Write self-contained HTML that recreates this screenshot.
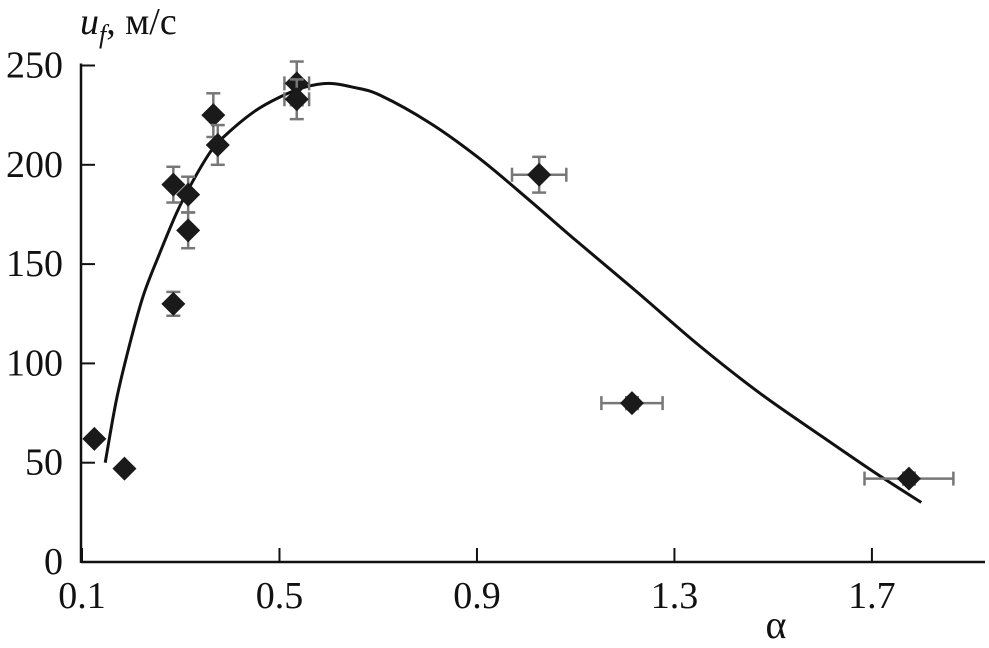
<!DOCTYPE html>
<html><head><meta charset="utf-8"><style>
html,body{margin:0;padding:0;background:#fff;}
svg{display:block;font-family:"Liberation Serif","DejaVu Serif",serif;}
</style></head><body>
<svg id="chart" width="989" height="648" viewBox="0 0 989 648" xmlns="http://www.w3.org/2000/svg">
<g id="axes"></g>
<g id="curve"></g>
<g id="points"></g>
<text x="80" y="34" font-size="38" fill="#111"><tspan font-style="italic">u</tspan><tspan font-style="italic" font-size="26" dy="9">f</tspan><tspan dy="-9">, м/с</tspan></text>
<text x="776" y="638" font-size="40" fill="#111" text-anchor="middle">α</text>
</svg>
<script>
const xTicks=[0.1,0.5,0.9,1.3,1.7];
const yTicks=[0,50,100,150,200,250];
const ptX=[0.125,0.186,0.285,0.315,0.315,0.285,0.366,0.375,0.535,0.535,1.026,1.214,1.775];
const ptY=[62,47,190,185,167,130,225,210,241,233,195,80,42];
const errX=[0,0,0,0,0,0,0,0,0.025,0.025,0.055,0.062,0.09];
const errY=[0,0,9,9,9,6,11,10,11,10,9,3,3];
const curveX=[0.147,0.17,0.197,0.224,0.255,0.292,0.325,0.363,0.4,0.45,0.5,0.55,0.6,0.65,0.704,0.805,0.906,1.007,1.1,1.224,1.35,1.473,1.6,1.706,1.8];
const curveY=[50,82,110,134,154,176,192,207.5,217,227,234,239,241,239,235,221,203,182,162,136,109,85,63,45,30];
const X=v=>82+(v-0.1)*493.7;
const Y=v=>562-v*1.986;
const NS="http://www.w3.org/2000/svg";
function mk(tag,attrs,parent){const e=document.createElementNS(NS,tag);for(const k in attrs)e.setAttribute(k,attrs[k]);parent.appendChild(e);return e;}
const ax=document.getElementById('axes');
let l=mk('line',{x1:81,y1:Y(0),x2:985,y2:Y(0),stroke:'#111','stroke-width':2.5},ax);


l=mk('line',{x1:81,y1:Y(0)+1,x2:81,y2:Y(250)-2,stroke:'#111','stroke-width':2.5},ax);


xTicks.forEach(t=>{
 const tk=mk('line',{x1:X(t),y1:Y(0),x2:X(t),y2:Y(0)-14,stroke:'#111','stroke-width':2},ax);
 
 
 const tx=mk('text',{x:X(t),y:608,'font-size':38,'text-anchor':'middle',fill:'#111'},ax);
 tx.textContent=t.toFixed(1);
 
 
});
yTicks.forEach(t=>{
 if(t>0){const tk=mk('line',{x1:81,y1:Y(t),x2:95,y2:Y(t),stroke:'#111','stroke-width':2},ax);
 
 }
 const tx=mk('text',{x:63,y:Y(t)+12,'font-size':38,'text-anchor':'end',fill:'#111'},ax);
 tx.textContent=t;
 
 
});
const P=curveX.map((v,i)=>[X(v),Y(curveY[i])]);
let d='M'+P[0][0]+','+P[0][1];
for(let i=0;i<P.length-1;i++){
 const p0=P[Math.max(0,i-1)],p1=P[i],p2=P[i+1],p3=P[Math.min(P.length-1,i+2)];
 const c1=[p1[0]+(p2[0]-p0[0])/6,p1[1]+(p2[1]-p0[1])/6];
 const c2=[p2[0]-(p3[0]-p1[0])/6,p2[1]-(p3[1]-p1[1])/6];
 d+=' C'+c1+' '+c2+' '+p2;
}
const cp=mk('path',{d:d,fill:'none',stroke:'#111','stroke-width':3},document.getElementById('curve'));


const pg=document.getElementById('points');
ptX.forEach((v,i)=>{
 const cx=X(v),cy=Y(ptY[i]);
 const g=mk('g',{},pg);
 
 
 const st={stroke:'#777','stroke-width':2.5};
 if(errY[i]>0){
  const e=errY[i]*1.986;
  mk('line',Object.assign({x1:cx,y1:cy-e,x2:cx,y2:cy+e},st),g);
  mk('line',Object.assign({x1:cx-7,y1:cy-e,x2:cx+7,y2:cy-e},st),g);
  mk('line',Object.assign({x1:cx-7,y1:cy+e,x2:cx+7,y2:cy+e},st),g);
 }
 if(errX[i]>0){
  const e=errX[i]*493.7;
  mk('line',Object.assign({x1:cx-e,y1:cy,x2:cx+e,y2:cy},st),g);
  mk('line',Object.assign({x1:cx-e,y1:cy-7,x2:cx-e,y2:cy+7},st),g);
  mk('line',Object.assign({x1:cx+e,y1:cy-7,x2:cx+e,y2:cy+7},st),g);
 }
 const r=12;
 mk('polygon',{points:`${cx},${cy-r} ${cx+r},${cy} ${cx},${cy+r} ${cx-r},${cy}`,fill:'#1a1a1a'},g);
});
</script>
</body></html>
